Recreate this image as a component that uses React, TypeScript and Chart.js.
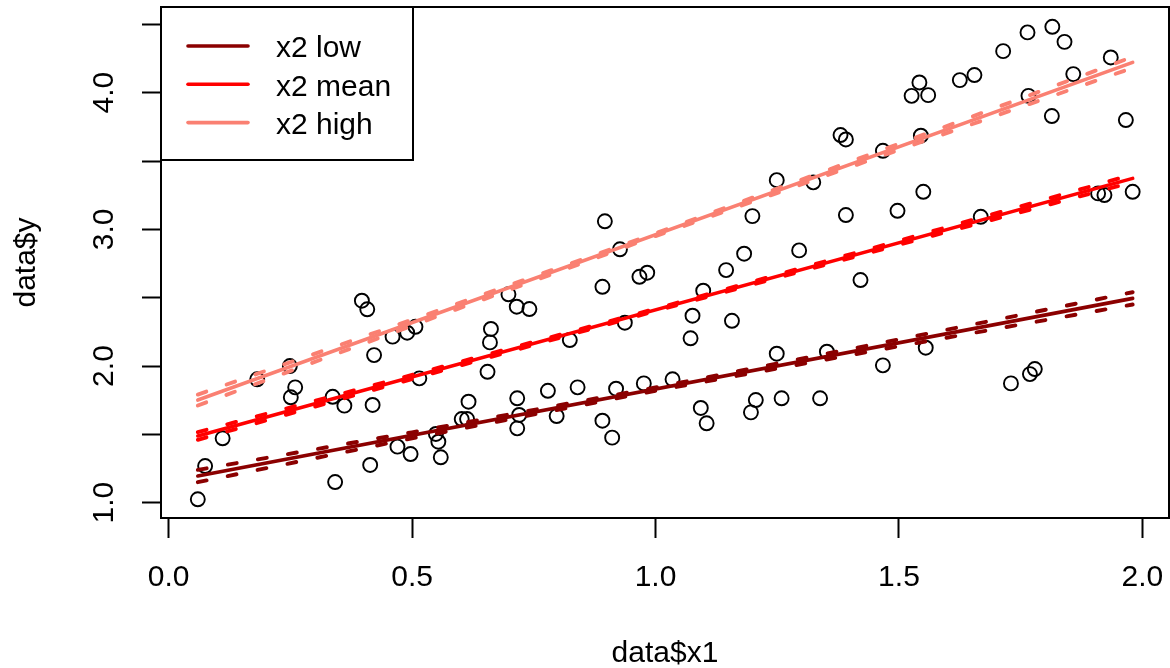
import { useEffect, useRef } from "react";
import { Chart, registerables } from "chart.js";

Chart.register(...registerables);

// ---- data ----
const x1Values = [
  0.060, 0.075, 0.111, 0.182, 0.249, 0.260, 0.251, 0.342, 0.337, 0.361,
  0.397, 0.408, 0.422, 0.419, 0.414, 0.460, 0.490, 0.507, 0.470, 0.497,
  0.515, 0.549, 0.554, 0.559, 0.602, 0.613, 0.616, 0.655, 0.660, 0.662,
  0.698, 0.715, 0.741, 0.716, 0.720, 0.716, 0.797, 0.779, 0.840, 0.824,
  0.891, 0.911, 0.919, 0.891, 0.896, 0.927, 0.937, 0.967, 0.983, 0.976,
  1.035, 1.072, 1.076, 1.098, 1.093, 1.105, 1.145, 1.157, 1.182, 1.199,
  1.206, 1.196, 1.249, 1.259, 1.295, 1.338, 1.352, 1.249, 1.324, 1.391,
  1.380, 1.391, 1.467, 1.497, 1.545, 1.550, 1.526, 1.542, 1.560, 1.625,
  1.655, 1.668, 1.714, 1.764, 1.766, 1.815, 1.840, 1.814, 1.858, 1.935,
  1.966, 1.909, 1.922, 1.980, 1.421, 1.467, 1.555, 1.730, 1.769, 1.779,
];
const yValues = [
  1.025, 1.268, 1.471, 1.903, 2.000, 1.844, 1.771, 1.151, 1.775, 1.710,
  2.478, 2.415, 2.080, 1.715, 1.276, 2.215, 2.244, 2.287, 1.410, 1.356,
  1.910, 1.503, 1.446, 1.332, 1.612, 1.612, 1.739, 1.958, 2.173, 2.271,
  2.525, 2.434, 2.417, 1.764, 1.642, 1.544, 1.634, 1.819, 1.844, 2.190,
  1.600, 1.476, 1.834, 2.580, 3.059, 2.854, 2.317, 2.653, 2.683, 1.873,
  1.903, 2.203, 2.368, 2.551, 1.693, 1.581, 2.702, 2.331, 2.822, 3.097,
  1.751, 1.661, 2.090, 1.764, 2.846, 1.764, 2.105, 3.360, 3.344, 3.105,
  3.690, 3.658, 3.575, 3.136, 3.685, 3.275, 3.977, 4.075, 3.982, 4.092,
  4.129, 3.092, 4.304, 4.441, 3.977, 4.482, 4.372, 3.829, 4.136, 4.258,
  3.800, 3.263, 3.251, 3.275, 2.629, 2.005, 2.134, 1.873, 1.941, 1.978,
];

// fitted lines (solid)
const fitX = [0.06, 1.98];
const lowFit = [1.195, 2.495];
const meanFit = [1.488, 3.373];
const highFit = [1.751, 4.222];

// confidence bands (dashed)
const ciX = [0.06, 0.5, 1.0, 1.5, 1.98];
const lowUpper = [1.240, 1.515, 1.843, 2.195, 2.540];
const lowLower = [1.150, 1.471, 1.819, 2.145, 2.450];
const meanUpper = [1.516, 1.935, 2.419, 2.917, 3.401];
const meanLower = [1.460, 1.905, 2.403, 2.887, 3.345];
const highUpper = [1.791, 2.339, 2.971, 3.626, 4.262];
const highLower = [1.711, 2.295, 2.951, 3.582, 4.182];

const seriesNames = ["x2 low", "x2 mean", "x2 high"];
const seriesColors = ["#8B0000", "#FF0000", "#FA8072"];

const xTicks = [0, 0.5, 1.0, 1.5, 2.0];
const yTicks = [1.0, 1.5, 2.0, 2.5, 3.0, 3.5, 4.0, 4.5];
const yLabelled = [1.0, 2.0, 3.0, 4.0];

const xTitle = "data$x1";
const yTitle = "data$y";

const FONT = "'Liberation Sans', Arial, Helvetica, sans-serif";

const toPts = (xs: number[], ys: number[]) => xs.map((x, i) => ({ x, y: ys[i] }));

const zeroPad = (s: any) => {
  s.paddingTop = 0;
  s.paddingBottom = 0;
  s.paddingLeft = 0;
  s.paddingRight = 0;
};

// plot region (pixels)
const AREA = { left: 161, right: 1169, top: 7, bottom: 518 };

export default function App() {
  const ref = useRef<HTMLCanvasElement | null>(null);

  useEffect(() => {
    document.body.style.margin = "0";
    const canvas = ref.current;
    if (!canvas) return;

    const solid = (i: number, ys: number[]) => ({
      type: "scatter" as const,
      data: toPts(fitX, ys),
      showLine: true,
      borderColor: seriesColors[i],
      backgroundColor: seriesColors[i],
      borderWidth: 3.6,
      pointRadius: 0,
      borderCapStyle: "round" as const,
      order: 1,
    });
    const dashed = (i: number, ys: number[]) => ({
      type: "scatter" as const,
      data: toPts(ciX, ys),
      showLine: true,
      borderColor: seriesColors[i],
      backgroundColor: seriesColors[i],
      borderWidth: 3.9,
      borderDash: [9, 21.5],
      borderCapStyle: "round" as const,
      pointRadius: 0,
      order: 2,
    });

    const boxAndLegend = {
      id: "boxAndLegend",
      afterDraw(chart: any) {
        const { ctx, chartArea } = chart;
        ctx.save();
        ctx.strokeStyle = "#000";
        ctx.lineWidth = 2;
        ctx.strokeRect(chartArea.left, chartArea.top, chartArea.right - chartArea.left, chartArea.bottom - chartArea.top);

        // legend
        const lx = chartArea.left;
        const ly = chartArea.top;
        const lw = 252;
        const lh = 153;
        ctx.fillStyle = "#fff";
        ctx.fillRect(lx, ly, lw, lh);
        ctx.strokeRect(lx, ly, lw, lh);
        ctx.font = `30px ${FONT}`;
        ctx.textBaseline = "alphabetic";
        ctx.textAlign = "left";
        seriesNames.forEach((name, i) => {
          const y = ly + 39 + i * 38.3;
          ctx.strokeStyle = seriesColors[i];
          ctx.lineWidth = 3.6;
          ctx.lineCap = "round";
          ctx.beginPath();
          ctx.moveTo(lx + 27, y);
          ctx.lineTo(lx + 87, y);
          ctx.stroke();
          ctx.fillStyle = "#000";
          ctx.fillText(name, lx + 115, y + 11.3);
        });
        ctx.restore();
      },
    };

    const chart = new Chart(canvas, {
      type: "scatter",
      data: {
        datasets: [
          solid(0, lowFit),
          solid(1, meanFit),
          solid(2, highFit),
          dashed(0, lowUpper),
          dashed(0, lowLower),
          dashed(1, meanUpper),
          dashed(1, meanLower),
          dashed(2, highUpper),
          dashed(2, highLower),
          {
            type: "scatter",
            data: toPts(x1Values, yValues),
            showLine: false,
            pointStyle: "circle",
            pointRadius: 7,
            pointBorderWidth: 1.9,
            borderColor: "#000",
            backgroundColor: "rgba(0,0,0,0)",
            order: 10,
          } as any,
        ],
      },
      options: {
        animation: false,
        responsive: false,
        events: [],
        layout: {
          autoPadding: false,
          padding: { top: AREA.top, right: 1170 - AREA.right, left: 0, bottom: 0 },
        },
        plugins: {
          legend: { display: false },
          tooltip: { enabled: false },
        },
        scales: {
          x: {
            type: "linear",
            min: -0.0156,
            max: 2.0546,
            afterBuildTicks: (s: any) => {
              s.ticks = xTicks.map((v) => ({ value: v }));
            },
            afterFit: (s: any) => {
              s.height = 668 - AREA.bottom;
              zeroPad(s);
            },
            ticks: {
              callback: (v: any) => Number(v).toFixed(1),
              font: { family: FONT, size: 30 },
              color: "#000",
              padding: 22,
              maxRotation: 0,
              minRotation: 0,
              autoSkip: false,
            },
            grid: {
              drawOnChartArea: false,
              drawTicks: true,
              tickLength: 20,
              tickColor: "#000",
              tickWidth: 2,
              color: "#000",
            },
            border: { display: false },
            title: {
              display: true,
              text: xTitle,
              color: "#000",
              font: { family: FONT, size: 30 },
              padding: { top: 0, bottom: -3.6 },
            },
          },
          y: {
            type: "linear",
            min: 0.888,
            max: 4.627,
            afterBuildTicks: (s: any) => {
              s.ticks = yTicks.map((v) => ({ value: v }));
            },
            afterFit: (s: any) => {
              s.width = AREA.left;
              zeroPad(s);
            },
            ticks: {
              callback: (v: any) => (yLabelled.includes(Number(v)) ? Number(v).toFixed(1) : ""),
              font: { family: FONT, size: 30 },
              color: "#000",
              padding: 16,
              minRotation: 90,
              maxRotation: 90,
              crossAlign: "center",
              autoSkip: false,
            },
            grid: {
              drawOnChartArea: false,
              drawTicks: true,
              tickLength: 19,
              tickColor: "#000",
              tickWidth: 2,
              color: "#000",
            },
            border: { display: false },
            title: {
              display: true,
              text: yTitle,
              color: "#000",
              font: { family: FONT, size: 30 },
              padding: { top: 8.5, bottom: 0 },
            },
          },
        },
      },
      plugins: [boxAndLegend],
    } as any);

    return () => chart.destroy();
  }, []);

  return (
    <div style={{ position: "absolute", left: 0, top: 0, width: 1170, height: 668, background: "#fff" }}>
      <canvas ref={ref} width={1170} height={668} style={{ width: 1170, height: 668, display: "block" }} />
    </div>
  );
}
